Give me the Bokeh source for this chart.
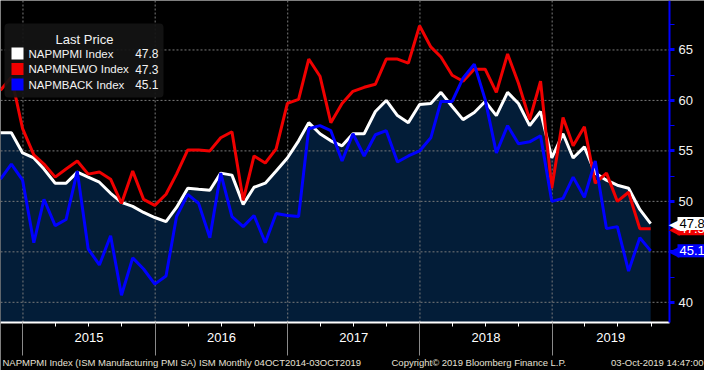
import pandas as pd
from bokeh.plotting import figure
from bokeh.models import (FixedTicker, Range1d, Label, BoxAnnotation, ColumnDataSource,
                          LinearAxis, DatetimeAxis, DatetimeTickFormatter)
from bokeh.embed import file_html
from bokeh.resources import INLINE

# ---------------- data ----------------
pmi = [56.8, 56.8, 54.8, 54.3, 53.2, 51.8, 51.8, 52.9, 52.4, 51.9,
       50.8, 49.9, 49.5, 48.9, 48.4, 48.0, 49.4, 51.3, 51.2, 51.1,
       52.8, 52.6, 49.7, 51.4, 51.8, 53.0, 54.3, 56.0, 57.8, 56.7,
       56.0, 55.5, 56.7, 56.7, 58.9, 60.0, 58.5, 57.8, 59.6, 59.7,
       60.8, 59.4, 58.1, 58.8, 59.9, 58.5, 60.8, 59.7, 57.5, 58.9,
       54.3, 56.7, 54.3, 55.4, 52.8, 52.1, 51.6, 51.3, 49.2, 47.8]
new_orders = [61.0, 62.3, 57.2, 54.6, 53.7, 52.4, 53.2, 54.0, 52.7, 52.9,
              52.2, 49.8, 53.0, 50.2, 49.6, 50.7, 52.7, 55.1, 55.1, 55.0,
              56.3, 56.9, 50.1, 54.5, 53.8, 55.2, 59.7, 60.1, 64.1, 62.4,
              57.8, 59.7, 60.9, 61.3, 61.6, 64.1, 64.1, 63.7, 67.4, 65.3,
              64.3, 62.5, 61.9, 63.1, 63.1, 60.8, 64.6, 61.7, 58.1, 61.9,
              51.3, 58.3, 55.5, 57.4, 51.8, 52.8, 50.0, 50.9, 47.3, 47.3]
backlog = [52.2, 53.7, 52.1, 45.9, 50.2, 47.6, 48.2, 53.0, 45.3, 43.7,
           46.6, 40.7, 44.4, 43.3, 41.8, 42.6, 48.5, 50.7, 49.8, 46.4,
           52.8, 48.5, 47.5, 48.6, 45.9, 48.8, 48.6, 48.5, 57.2, 57.5,
           57.0, 54.0, 56.7, 54.5, 56.6, 57.0, 53.9, 54.5, 55.0, 56.3,
           59.9, 59.9, 62.2, 63.6, 60.1, 54.8, 57.5, 55.7, 55.9, 56.5,
           50.0, 50.3, 52.4, 50.4, 54.0, 47.3, 47.5, 43.1, 46.4, 45.1]
first_month = "2014-10"
series_names = ["NAPMPMI Index", "NAPMNEWO Index", "NAPMBACK Index"]
series_colors = ["#ffffff", "#f00000", "#0000ff"]
y_ticks = [40, 45, 50, 55, 60, 65]
y_minor = [42.5, 47.5, 52.5, 57.5, 62.5, 67.5]
years = [2015, 2016, 2017, 2018, 2019]
x_start, x_end = "2014-10-31", "2019-11-21"
y_bottom, y_top = 38.0, 69.9
legend_title = "Last Price"
footer_left = "NAPMPMI Index (ISM Manufacturing PMI SA) ISM  Monthly 04OCT2014-03OCT2019"
footer_mid = "Copyright\u00a9 2019 Bloomberg Finance L.P."
footer_right = "03-Oct-2019 14:47:00"

# ---------------- helpers ----------------
def ms(ts):
    return pd.Timestamp(ts).value / 1e6

dates = pd.period_range(first_month, periods=len(pmi), freq="M").to_timestamp(how="end").normalize()
src = ColumnDataSource(dict(date=dates, pmi=pmi, no=new_orders, bl=backlog))

FONT = "Liberation Sans"
W, H = 704, 370          # canvas
PW, PH = 669, 322        # plotting region (left/top aligned)

xs, xe = ms(x_start), ms(x_end)
x_canvas_end = xs + (xe - xs) * W / PW
y_canvas_bottom = y_top - (y_top - y_bottom) * H / PH

p = figure(width=W, height=H, x_range=Range1d(xs, x_canvas_end),
           y_range=Range1d(y_canvas_bottom, y_top),
           x_axis_location=None, y_axis_location=None,
           output_backend="svg", toolbar_location=None,
           min_border=0, min_border_left=0, min_border_right=0,
           min_border_top=0, min_border_bottom=0,
           background_fill_color="black", border_fill_color="black",
           outline_line_color=None)
p.grid.visible = False

# grid (dotted) limited to the plotting region
year_bounds = [ms(f"{y}-01-01") for y in years]
quarters = [ms(f"{y}-{m:02d}-01") for y in years for m in (4, 7, 10)]
p.segment(x0=year_bounds, y0=y_bottom, x1=year_bounds, y1=y_top,
          line_color="#7a7a7a", line_dash="2 2", line_width=1, level="underlay")
p.segment(x0=xs, y0=y_ticks, x1=xe, y1=y_ticks,
          line_color="#7a7a7a", line_dash="2 2", line_width=1, level="underlay")

# area + lines
p.varea(x="date", y1=y_bottom, y2="pmi", source=src, fill_color="#031d38", level="image")
p.line(x="date", y="pmi", source=src, line_color=series_colors[0], line_width=3)
p.line(x="date", y="no", source=src, line_color=series_colors[1], line_width=3)
p.line(x="date", y="bl", source=src, line_color=series_colors[2], line_width=3)

# right axis (fixed at the plot's right edge)
ya = LinearAxis(fixed_location=xe, bounds=(y_bottom, y_top),
                ticker=FixedTicker(ticks=y_ticks, minor_ticks=y_minor))
ya.axis_line_color = "#0000ff"
ya.axis_line_width = 2
ya.major_tick_line_color = "#0000ff"
ya.major_tick_line_width = 3
ya.major_tick_out = 5
ya.major_tick_in = 0
ya.minor_tick_line_color = "#0000ff"
ya.minor_tick_out = 5
ya.minor_tick_in = 0
ya.major_label_text_color = "#f2f2f2"
ya.major_label_text_font = FONT
ya.major_label_text_font_size = "13px"
ya.major_label_standoff = 4
p.add_layout(ya, "right")

# bottom axis: year boundaries (long grey ticks) + quarterly ticks
xa = DatetimeAxis(fixed_location=y_bottom, bounds=(xs, xe),
                  ticker=FixedTicker(ticks=year_bounds, minor_ticks=quarters))
xa.axis_line_color = "white"
xa.axis_line_width = 2
xa.major_tick_line_color = "#8a8a8a"
xa.major_tick_out = 33
xa.major_tick_in = 0
xa.minor_tick_line_color = "white"
xa.minor_tick_out = 4
xa.minor_tick_in = 0
xa.major_label_text_color = None
p.add_layout(xa, "below")

# bottom axis: year labels centred in each (visible) year
year_mids = []
for y in years:
    a = max(ms(f"{y}-01-01"), xs)
    b = min(ms(f"{y + 1}-01-01"), xe)
    year_mids.append((a + b) / 2)
yfmt = DatetimeTickFormatter(years="%Y", months="%Y", days="%Y", hours="%Y",
                             hourmin="%Y", minutes="%Y", minsec="%Y", seconds="%Y",
                             milliseconds="%Y", microseconds="%Y")
xl = DatetimeAxis(fixed_location=y_bottom, bounds=(xs, xe),
                  ticker=FixedTicker(ticks=year_mids, minor_ticks=[]), formatter=yfmt)
xl.axis_line_color = None
xl.major_tick_line_color = None
xl.minor_tick_line_color = None
xl.major_tick_out = 0
xl.major_label_standoff = 10
xl.major_label_text_color = "white"
xl.major_label_text_font = FONT
xl.major_label_text_font_size = "13px"
p.add_layout(xl, "below")

def sy(canvas_y):
    # screen units are measured from the bottom of the frame (= canvas here)
    return H - canvas_y

# footer
for txt, xx, al in [(footer_left, 2, "left"), (footer_mid, 391, "left"), (footer_right, 703, "right")]:
    p.add_layout(Label(x=xx, y=sy(362), x_units="screen", y_units="screen", text=txt,
                       text_align=al, text_baseline="middle", text_color="#e6e1d6",
                       text_font=FONT, text_font_size="9.5px"))

# legend
p.add_layout(BoxAnnotation(left=4, right=163, top=sy(23), bottom=sy(97),
                           left_units="screen", right_units="screen",
                           top_units="screen", bottom_units="screen",
                           fill_color="#141414", fill_alpha=0.92, line_color=None,
                           border_radius=4))
p.add_layout(Label(x=84, y=sy(39), x_units="screen", y_units="screen", text=legend_title,
                   text_align="center", text_baseline="middle", text_color="#f2f2f2",
                   text_font=FONT, text_font_size="13px"))
last_vals = [pmi[-1], new_orders[-1], backlog[-1]]
for k, (nm, col, v) in enumerate(zip(series_names, series_colors, last_vals)):
    cy = 53 + k * 15.5
    p.add_layout(BoxAnnotation(left=11, right=23, top=sy(cy - 6), bottom=sy(cy + 6),
                               left_units="screen", right_units="screen",
                               top_units="screen", bottom_units="screen",
                               fill_color=col, fill_alpha=1, line_color=None))
    p.add_layout(Label(x=28, y=sy(cy), x_units="screen", y_units="screen", text=nm,
                       text_align="left", text_baseline="middle", text_color="#f2f2f2",
                       text_font=FONT, text_font_size="11.5px"))
    p.add_layout(Label(x=158, y=sy(cy), x_units="screen", y_units="screen", text=f"{v:.1f}",
                       text_align="right", text_baseline="middle", text_color="#f2f2f2",
                       text_font=FONT, text_font_size="12px"))

# last value tags on the right axis
tag_style = [(new_orders[-1], series_colors[1], "white"),
             (pmi[-1], series_colors[0], "black"),
             (backlog[-1], series_colors[2], "white")]
for v, bg, fg in tag_style:
    p.add_layout(Label(x=679, y=v, x_units="screen", y_units="data", text="\u25c0",
                       text_align="right", text_baseline="middle", text_color=bg,
                       text_font="DejaVu Sans", text_font_size="14px"))
    p.add_layout(Label(x=677, y=v, x_units="screen", y_units="data", text=f"{v:.1f}",
                       text_align="left", text_baseline="middle", text_color=fg,
                       background_fill_color=bg, padding=2, text_font=FONT,
                       text_font_size="13px"))

open("out.html", "w").write(file_html(p, INLINE))
